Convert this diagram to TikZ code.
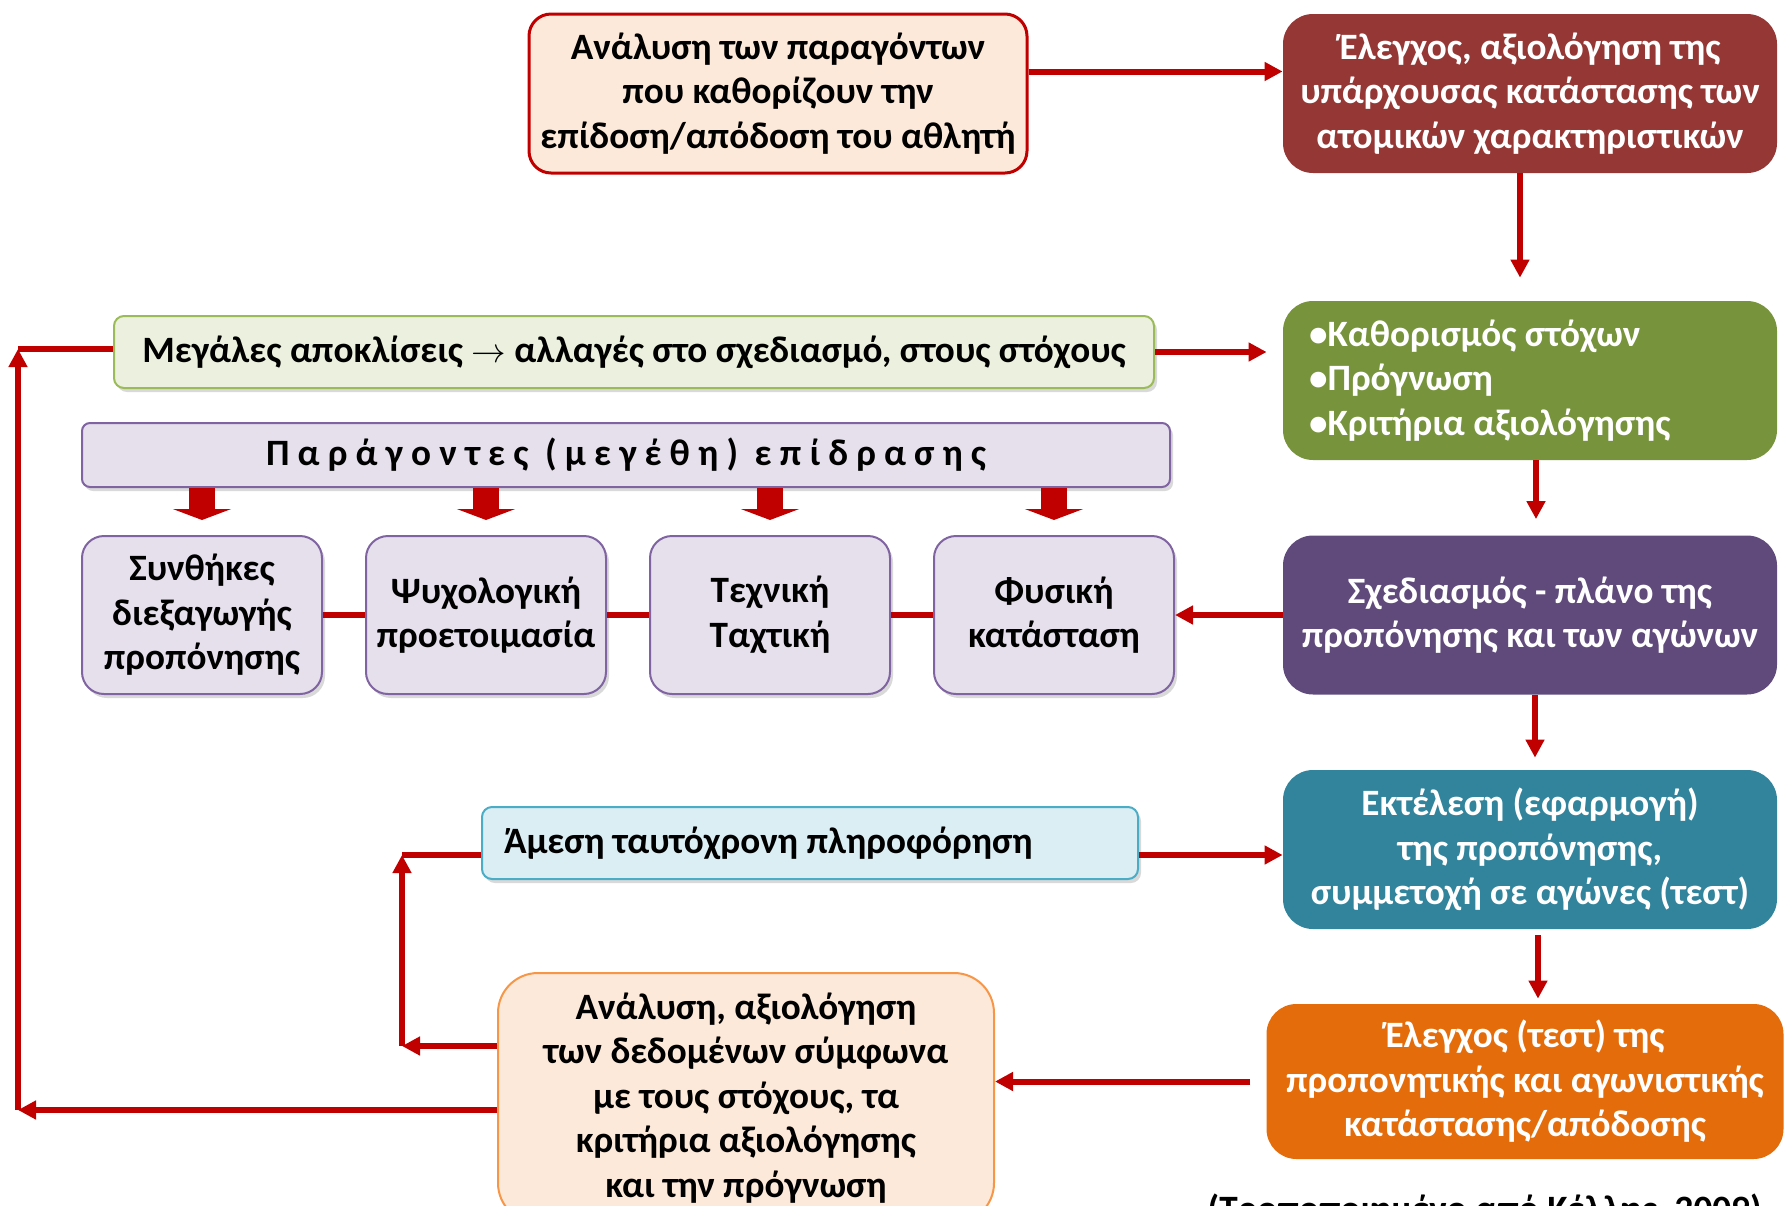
\documentclass[tikz,border=0pt]{standalone}
\usepackage{fontspec}
\setmainfont{Carlito}
\usetikzlibrary{positioning,arrows.meta,shadows}

\definecolor{lineRed}{HTML}{C00000}
\definecolor{peach}{HTML}{FDE9D9}
\definecolor{peachLine}{HTML}{F79646}
\definecolor{brick}{HTML}{953735}
\definecolor{olive}{HTML}{77933C}
\definecolor{greenLight}{HTML}{EBF1DE}
\definecolor{greenLine}{HTML}{9BBB59}
\definecolor{lavender}{HTML}{E5E0EC}
\definecolor{lavLine}{HTML}{8064A2}
\definecolor{plum}{HTML}{604A7B}
\definecolor{teal}{HTML}{31849B}
\definecolor{skyLight}{HTML}{DBEEF4}
\definecolor{skyLine}{HTML}{4BACC6}
\definecolor{pumpkin}{HTML}{E46C0A}

\begin{document}
\begin{tikzpicture}[x=0.5pt, y=-0.5pt, >={Triangle[length=9pt,width=9pt]},
  every node/.style={font=\fontsize{18.6}{22.3}\selectfont\bfseries}]
  % box styles: dark filled boxes with white text, light boxes with a border
  \tikzset{
    box/.style={rectangle, rounded corners=15pt, minimum width=247pt, minimum height=79.5pt, align=center, text=white, inner sep=2pt},
    lightbox/.style={rectangle, draw, line width=1pt, align=center, inner sep=2pt},
    shade/.style={drop shadow={opacity=0.3, shadow xshift=1.5pt, shadow yshift=-2pt}},
    factor/.style={lightbox, shade, draw=lavLine, fill=lavender, rounded corners=11pt, minimum width=120pt, minimum height=79pt},
    conn/.style={draw=lineRed, line width=3pt},
    fat/.style={draw=lineRed, line width=13pt, -{Triangle[width=29pt,length=5.5pt]}}
  }
  \useasboundingbox (0,0) rectangle (1785,1206);

  % top row
  \node[lightbox, draw=lineRed, line width=1.5pt, fill=peach, rounded corners=11pt,
    minimum width=249pt, minimum height=79.5pt] (analysis) at (778,93.5)
    {Ανάλυση των παραγόντων\\που καθορίζουν την\\επίδοση/απόδοση του αθλητή};
  \node[box, fill=brick] (check) at (1530,93.5)
    {Έλεγχος, αξιολόγηση της\\υπάρχουσας κατάστασης των\\ατομικών χαρακτηριστικών};

  % goals and deviations
  \node[lightbox, shade, draw=greenLine, fill=greenLight, rounded corners=5pt,
    minimum width=520pt, minimum height=36pt] (deviation) at (634,352)
    {Μεγάλες αποκλίσεις $\rightarrow$ αλλαγές στο σχεδιασμό, στους στόχους};
  \node[box, fill=olive, align=flush left, text width=221pt, inner xsep=13pt] (goals) at (1530,380.5)
    {•Καθορισμός στόχων\\•Πρόγνωση\\•Κριτήρια αξιολόγησης};

  % factors of influence
  \node[lightbox, shade, draw=lavLine, fill=lavender, rounded corners=4pt,
    minimum width=544pt, minimum height=32pt] (params) at (626,455)
    {\addfontfeature{LetterSpace=22}Παράγοντες (μεγέθη) επίδρασης};
  \node[factor] (cond) at (202,615) {Συνθήκες\\διεξαγωγής\\προπόνησης};
  \node[factor, right=21pt of cond] (psych) {Ψυχολογική\\προετοιμασία};
  \node[factor, right=21pt of psych] (tech) {Τεχνική\\Ταχτική};
  \node[factor, right=21pt of tech] (phys) {Φυσική\\κατάσταση};

  % right column
  \node[box, fill=plum] (plan) at (1530,615)
    {Σχεδιασμός - πλάνο της\\προπόνησης και των αγώνων};
  \node[box, fill=teal] (exec) at (1530,849.5)
    {Εκτέλεση (εφαρμογή)\\της προπόνησης,\\συμμετοχή σε αγώνες (τεστ)};
  \node[box, fill=pumpkin, minimum width=258.5pt, minimum height=77.5pt] (test) at (1525,1081.5)
    {Έλεγχος (τεστ) της\\προπονητικής και αγωνιστικής\\κατάστασης/απόδοσης};

  % feedback
  \node[lightbox, shade, draw=skyLine, fill=skyLight, rounded corners=5pt, align=flush left,
    text width=306pt, inner xsep=11pt, minimum height=36pt] (instant) at (810,843)
    {Άμεση ταυτόχρονη πληροφόρηση};
  \node[lightbox, draw=peachLine, fill=peach, rounded corners=20pt,
    minimum width=248pt, minimum height=125pt] (review) at (746,1098)
    {Ανάλυση, αξιολόγηση\\των δεδομένων σύμφωνα\\με τους στόχους, τα\\κριτήρια αξιολόγησης\\και την πρόγνωση};
  \node[anchor=base east, inner sep=0pt] (source) at (1762,1221)
    {(Τροποποιημένο από Κέλλης, 2009)};

  \coordinate (innerLow) at (402,1046);
  \coordinate (innerTop) at (402,855);
  \coordinate (outerLow) at (18,1110);
  \coordinate (outerTop) at (18,349);

  % main flow
  \draw[conn, ->] ([yshift=11pt]analysis.east) -- ([yshift=11pt]check.west);
  \draw[conn, ->, shorten >=11.5pt] ([xshift=-5pt]check.south) -- ([xshift=-5pt]goals.north);
  \draw[conn, ->, shorten >=8pt] ([xshift=3pt]goals.south) -- ([xshift=3pt]plan.north);
  \draw[conn, ->, shorten >=6pt] ([xshift=2.5pt]plan.south) -- ([xshift=2.5pt]exec.north);
  \draw[conn, ->, shorten <=3pt, shorten >=2.5pt] ([xshift=4pt]exec.south) -- ([xshift=4pt]exec.south |- test.north);
  \draw[conn, ->, shorten >=8pt] (deviation.east) -- (goals.west |- deviation.east);
  \draw[conn, ->] (plan.west |- phys.east) -- (phys.east);
  \draw[conn, ->] (instant.east |- innerTop) -- (exec.west |- innerTop);
  \draw[conn, ->, shorten <=8pt] (test.west) -- (review.east |- test.west);

  % links between the factors
  \draw[conn] (cond) -- (psych);
  \draw[conn] (psych) -- (tech);
  \draw[conn] (tech) -- (phys);
  \foreach \f in {cond,psych,tech,phys}
    \draw[fat, shorten >=7.5pt] (params.south -| \f.north) -- (\f.north);

  % feedback loops
  \draw[conn, ->] (review.west |- innerLow) -- (innerLow);
  \draw[conn, ->] (innerLow) -- (innerTop);
  \draw[conn] (innerTop) -- (instant.west |- innerTop);
  \draw[conn, ->] (review.west |- outerLow) -- (outerLow);
  \draw[conn, ->] (outerLow) -- (outerTop);
  \draw[conn] (outerTop) -- (deviation.west |- outerTop);
\end{tikzpicture}
\end{document}
